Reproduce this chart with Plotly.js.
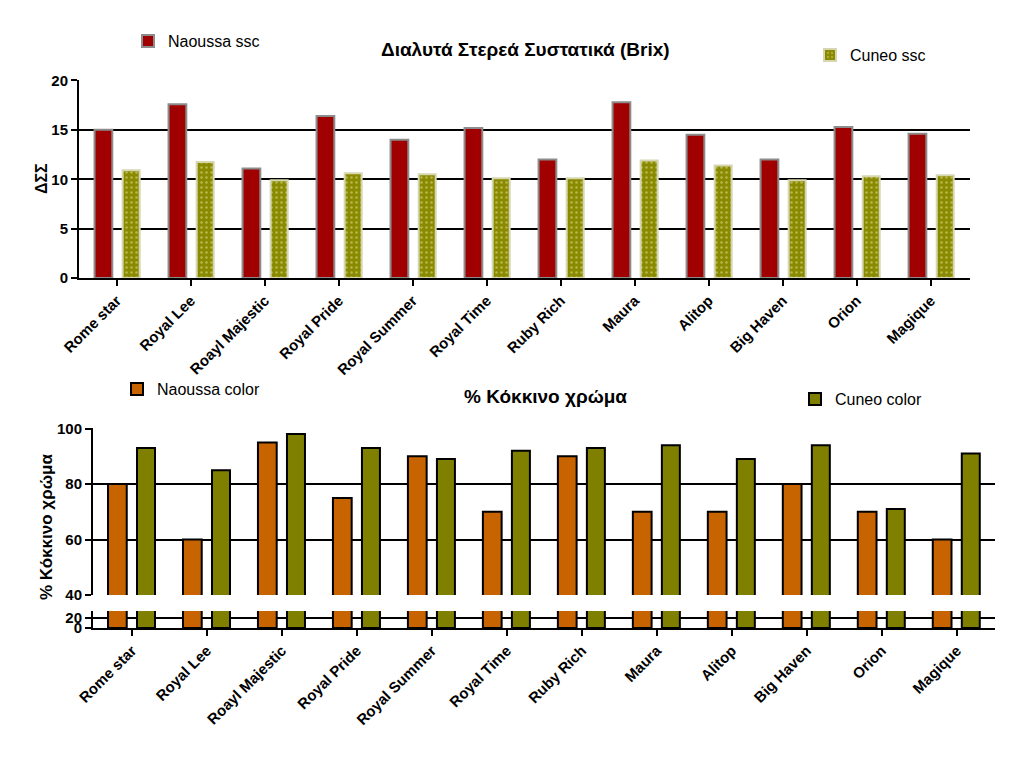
<!DOCTYPE html>
<html>
<head>
<meta charset="utf-8">
<script src="https://cdn.plot.ly/plotly-3.0.1.min.js"></script>
<style>html,body{margin:0;padding:0;background:#fff;}#chart{width:1024px;height:757px;}</style>
</head>
<body>
<div id="chart"></div>
<script>
const categories = ["Rome star","Royal Lee","Roayl Majestic","Royal Pride","Royal Summer","Royal Time","Ruby Rich","Maura","Alitop","Big Haven","Orion","Magique"];
const naoussaSsc = [15, 17.6, 11.1, 16.4, 14, 15.2, 12, 17.8, 14.5, 12, 15.3, 14.6];
const cuneoSsc   = [10.9, 11.75, 9.9, 10.6, 10.5, 10.1, 10.1, 11.9, 11.4, 9.9, 10.3, 10.4];
const naoussaColor = [80, 60, 95, 75, 90, 70, 90, 70, 70, 80, 70, 60];
const cuneoColor   = [93, 85, 98, 93, 89, 92, 93, 94, 89, 94, 71, 91];
const sscTicks = [0, 5, 10, 15, 20];
const colorTicksUpper = [40, 60, 80, 100];
const colorTicksLower = [0, 20];

const W = 1024, H = 757;
const px = v => v / W;
const py = v => 1 - v / H;
const FONT = "Liberation Sans, Arial, sans-serif";

const traces = [
  {type:"bar", name:"Naoussa ssc", x:categories, y:naoussaSsc, xaxis:"x", yaxis:"y",
   width:0.24, offset:-0.30, legend:"legend",
   marker:{color:"#a00000", line:{color:"#8c8c8c", width:2}}},
  {type:"bar", name:"Cuneo ssc", x:categories, y:cuneoSsc, xaxis:"x", yaxis:"y",
   width:0.23, offset:0.08, legend:"legend2",
   marker:{color:"#8a8a00", line:{color:"#d6d6b0", width:2},
     pattern:{shape:".", bgcolor:"#8a8a00", fgcolor:"#e4e49a", size:5, solidity:0.2, fillmode:"overlay"}}},
  {type:"bar", name:"Naoussa color", x:categories, y:naoussaColor, xaxis:"x2", yaxis:"y3",
   width:0.25, offset:-0.32, legend:"legend3",
   marker:{color:"#c86400", line:{color:"#000", width:2}}},
  {type:"bar", name:"Cuneo color", x:categories, y:cuneoColor, xaxis:"x2", yaxis:"y3",
   width:0.24, offset:0.067, legend:"legend4",
   marker:{color:"#808000", line:{color:"#000", width:2}}},
  {type:"bar", name:"Naoussa color", x:categories, y:naoussaColor, xaxis:"x2", yaxis:"y4",
   width:0.25, offset:-0.32, showlegend:false,
   marker:{color:"#c86400", line:{color:"#000", width:2}}},
  {type:"bar", name:"Cuneo color", x:categories, y:cuneoColor, xaxis:"x2", yaxis:"y4",
   width:0.24, offset:0.067, showlegend:false,
   marker:{color:"#808000", line:{color:"#000", width:2}}}
];

const tickFont = {family:FONT, size:15, color:"#000", weight:"bold"};
const yTickFont = {family:FONT, size:15, color:"#000", weight:"bold"};
const legFont = {family:FONT, size:16, color:"#000"};

const baseX = {type:"category", tickangle:-45, ticks:"outside", ticklen:6, tickwidth:2, tickcolor:"#000",
  showline:true, linewidth:2, linecolor:"#000", showgrid:false, zeroline:false, tickfont:tickFont, fixedrange:true};
const baseY = {ticks:"outside", ticklen:6, tickwidth:2, tickcolor:"#000", showline:true, linewidth:2, linecolor:"#000",
  showgrid:true, gridcolor:"#000", gridwidth:2, zeroline:false, tickfont:yTickFont, tickmode:"array", fixedrange:true};

const layout = {
  width:W, height:H, margin:{l:0,r:0,t:0,b:0}, paper_bgcolor:"#fff", plot_bgcolor:"rgba(0,0,0,0)",
  barmode:"overlay", font:{family:FONT, color:"#000"},
  xaxis: Object.assign({}, baseX, {domain:[px(79), px(970)], anchor:"y", range:[-0.51, 11.53]}),
  yaxis: Object.assign({}, baseY, {domain:[py(278), py(80)], anchor:"x", range:[0, 20.05], tickvals:sscTicks}),
  xaxis2: Object.assign({}, baseX, {domain:[px(93), px(995)], anchor:"y4", range:[-0.52, 11.51]}),
  xaxis3: {domain:[px(93), px(995)], anchor:"y3", showline:true, linewidth:2, linecolor:"#000", showticklabels:false,
    ticks:"", showgrid:false, zeroline:false, range:[0,1], fixedrange:true},
  yaxis3: Object.assign({}, baseY, {domain:[py(595), py(428)], anchor:"x2", range:[40, 100.2], tickvals:colorTicksUpper}),
  yaxis4: Object.assign({}, baseY, {domain:[py(628), py(611)], anchor:"x2", range:[0, 34], tickvals:colorTicksLower}),
  showlegend:true,
  legend:{x:px(128), y:py(41), xanchor:"left", yanchor:"middle", bgcolor:"rgba(0,0,0,0)", font:legFont},
  legend2:{x:px(810), y:py(55), xanchor:"left", yanchor:"middle", bgcolor:"rgba(0,0,0,0)", font:legFont},
  legend3:{x:px(117), y:py(389), xanchor:"left", yanchor:"middle", bgcolor:"rgba(0,0,0,0)", font:legFont},
  legend4:{x:px(795), y:py(399), xanchor:"left", yanchor:"middle", bgcolor:"rgba(0,0,0,0)", font:legFont},
  annotations:[
    {text:"Διαλυτά Στερεά Συστατικά (Brix)", xref:"paper", yref:"paper", x:px(525), y:py(50), showarrow:false,
     xanchor:"center", yanchor:"middle", font:{family:FONT, size:19, weight:"bold", color:"#000"}},
    {text:"% Κόκκινο χρώμα", xref:"paper", yref:"paper", x:px(545), y:py(396), showarrow:false,
     xanchor:"center", yanchor:"middle", font:{family:FONT, size:19, weight:"bold", color:"#000"}},
    {text:"ΔΣΣ", xref:"paper", yref:"paper", x:px(42), y:py(179), showarrow:false, textangle:-90,
     xanchor:"center", yanchor:"middle", font:{family:FONT, size:16, weight:"bold", color:"#000"}},
    {text:"% Κόκκινο χρώμα", xref:"paper", yref:"paper", x:px(46), y:py(527), showarrow:false, textangle:-90,
     xanchor:"center", yanchor:"middle", font:{family:FONT, size:17, weight:"bold", color:"#000"}}
  ]
};

Plotly.newPlot("chart", traces, layout, {staticPlot:true, displayModeBar:false});
</script>
</body>
</html>
